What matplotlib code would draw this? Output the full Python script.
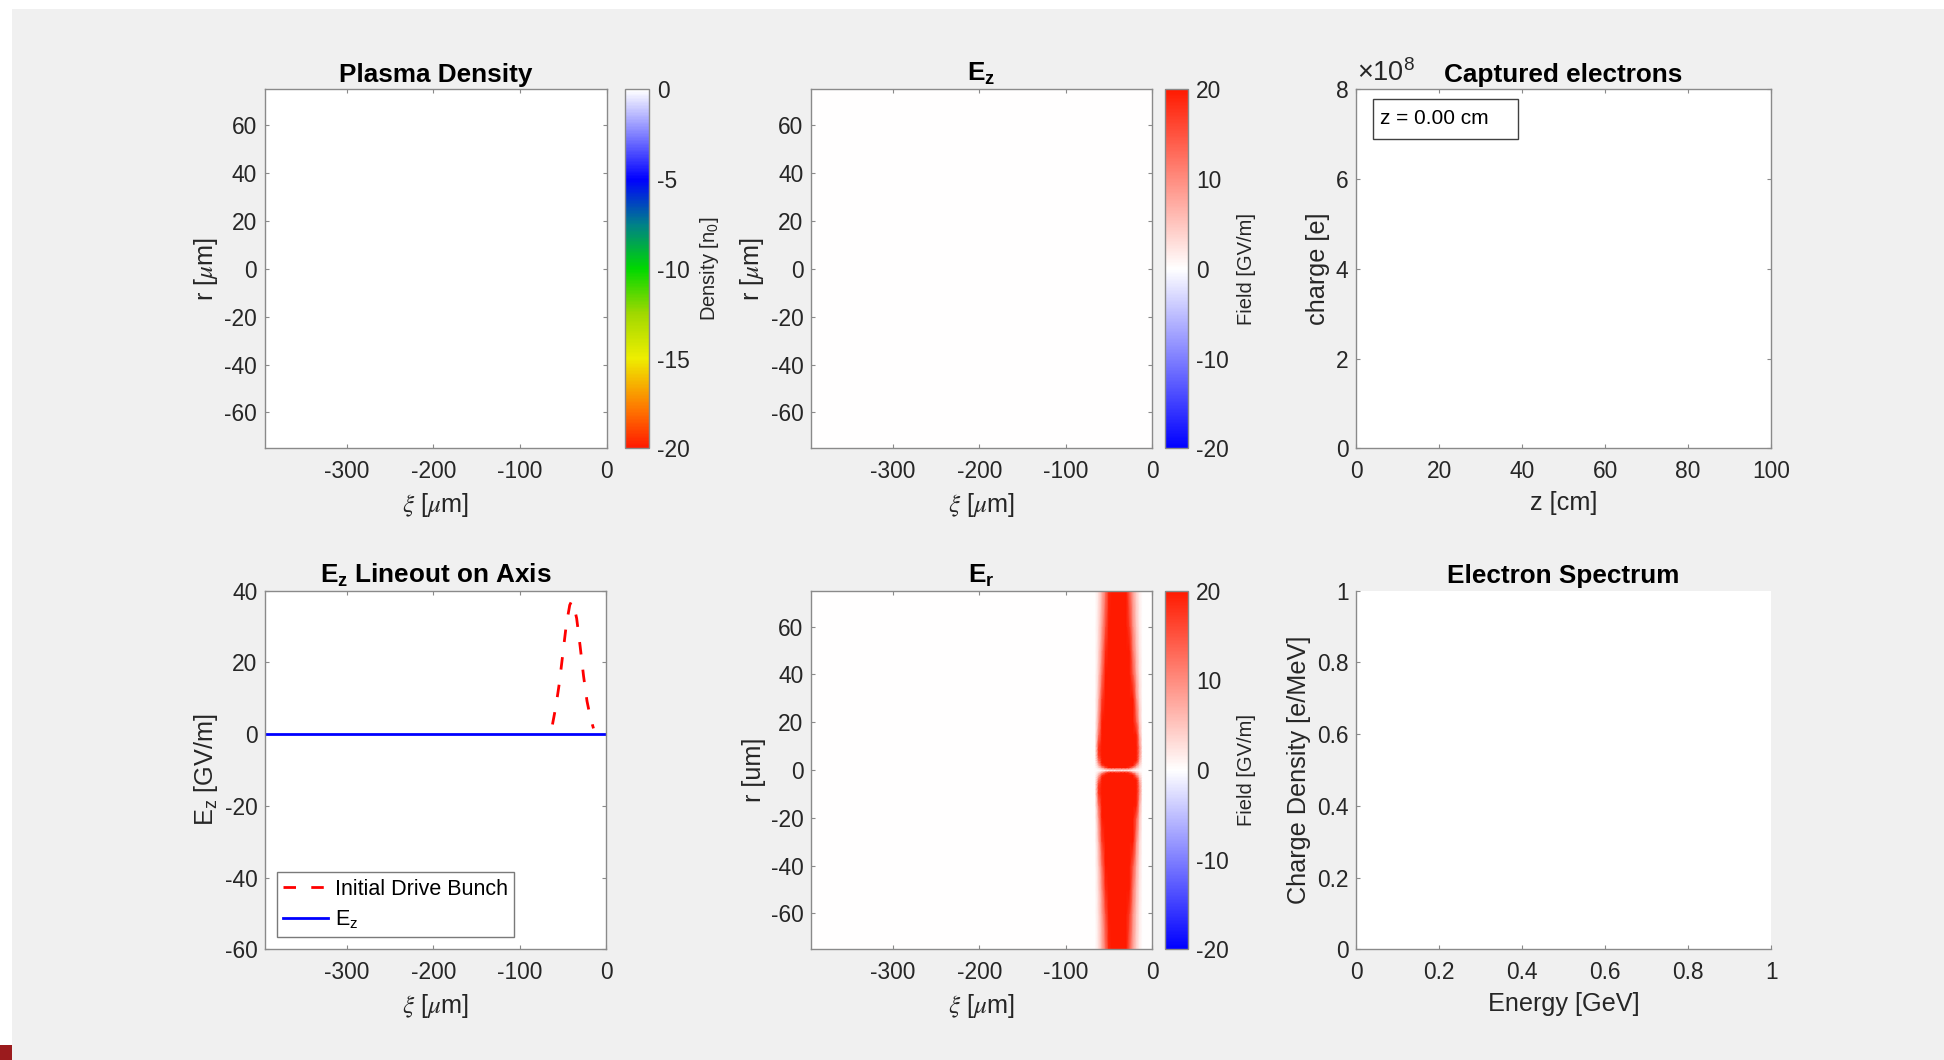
"""Wakefield snapshot at z = 0: six panels (density, Ez, captured charge,
Ez lineout, Er, spectrum), laid out like the MATLAB figure."""

import numpy as np
import matplotlib
matplotlib.use("Agg")
import matplotlib.pyplot as plt
from matplotlib.colors import LinearSegmentedColormap, Normalize
from matplotlib.patches import Rectangle
from matplotlib.ticker import FuncFormatter

TICK_FS = 16.4
LABEL_FS = 18.2
TITLE_FS = 18.8
CB_FS = 14.5

plt.rcParams.update({
    "font.family": ["Liberation Sans", "DejaVu Sans"],
    "mathtext.fontset": "custom",
    "mathtext.rm": "Liberation Sans",
    "mathtext.it": "STIXGeneral:italic",
    "mathtext.bf": "Liberation Sans:bold",
    "axes.unicode_minus": False,
    "xtick.labelsize": TICK_FS,
    "ytick.labelsize": TICK_FS,
})

W, H = 1944, 1060

# ---- data -----------------------------------------------------------------
XI_LIM = (-395, 0)
R_LIM = (-75, 75)
XI_TICKS = [-300, -200, -100, 0]
R_TICKS = [-60, -40, -20, 0, 20, 40, 60]

DENSITY_TICKS = [-20, -15, -10, -5, 0]
FIELD_TICKS = [-20, -10, 0, 10, 20]

# initial drive bunch [GV/m scale]
BUNCH_XI = [-62, -58, -54, -50, -46, -42, -40, -38, -34, -30, -26, -22, -18, -14.5]
BUNCH_EZ = [2.7, 7.8, 14.3, 22.4, 30.5, 36.0, 37.0, 36.6, 32.3, 24.6, 16.2, 9.2, 4.5, 1.6]

# on-axis Ez is flat zero at z = 0
LINEOUT_XI = [-395, 0]
LINEOUT_EZ = [0, 0]

# Er radial amplitude at the bunch centre [GV/m] (mirrored for r < 0)
ER_R = [0, 1, 2, 3, 4, 5, 6, 8, 10, 15, 20, 30, 40, 50, 60, 75]
ER_AMP = [0, 40, 80, 130, 170, 200, 225, 240, 236, 160, 120, 80, 59, 47, 39, 31.5]

CHARGE_XLIM = (0, 100)
CHARGE_SCALE = 1e8
CHARGE_YLIM = (0, 8e8)
CHARGE_YTICKS = [0, 2e8, 4e8, 6e8, 8e8]
CHARGE_XTICKS = [0, 20, 40, 60, 80, 100]
SPEC_TICKS = [0, 0.2, 0.4, 0.6, 0.8, 1]
Z_NOW = 0.00

# ---- colours --------------------------------------------------------------
density_cmap = LinearSegmentedColormap.from_list("density", [
    (0.0, "#ff1a00"), (0.1, "#ff7000"), (0.25, "#eeee00"), (0.375, "#a0d800"),
    (0.5, "#00d800"), (0.625, "#00808a"), (0.75, "#0000ff"), (1.0, "#ffffff")])
field_cmap = LinearSegmentedColormap.from_list("field", ["#0000ff", "#ffffff", "#ff1a00"])

FRAME = "#8a8a8a"
TXT = "#262626"


def px_rect(x0, x1, ytop, ybot):
    return [x0 / W, 1 - ybot / H, (x1 - x0) / W, (ybot - ytop) / H]


def style(ax, box=True):
    for name, sp in ax.spines.items():
        sp.set_color(FRAME)
        sp.set_linewidth(1.0)
        if not box and name in ("top", "right"):
            sp.set_visible(False)
    ax.tick_params(direction="in", length=3, width=0.8, color=FRAME,
                   labelsize=TICK_FS, labelcolor=TXT, top=box, right=box)
    ax.tick_params(axis="x", pad=8.5)
    ax.tick_params(axis="y", pad=5.5)
    ax.set_facecolor("white")


def labels(ax, xlabel, ylabel, ypad=4):
    ax.set_xlabel(xlabel, fontsize=LABEL_FS, color=TXT, labelpad=5.5)
    ax.set_ylabel(ylabel, fontsize=LABEL_FS, color=TXT, labelpad=ypad)


def colorbar(fig, mappable, rect, ticks, label):
    cax = fig.add_axes(rect)
    cb = fig.colorbar(mappable, cax=cax, ticks=ticks)
    cb.outline.set_edgecolor(FRAME)
    cb.outline.set_linewidth(1.0)
    cax.tick_params(length=0, labelsize=TICK_FS, labelcolor=TXT, pad=6)
    cb.set_label(label, fontsize=CB_FS, color=TXT, labelpad=6)
    return cb


def field_axes(ax, ylabel):
    style(ax)
    ax.set_xlim(*XI_LIM)
    ax.set_ylim(*R_LIM)
    ax.set_xticks(XI_TICKS)
    ax.set_yticks(R_TICKS)
    labels(ax, r"$\xi$ [$\mu$m]", ylabel, ypad=3)


def main():
    fig = plt.figure(figsize=(W / 100, H / 100), dpi=100, facecolor="white")
    fig.add_artist(Rectangle((12 / W, 0), 1 - 12 / W, 1 - 9 / H, transform=fig.transFigure,
                             facecolor="#f0f0f0", edgecolor="none", zorder=-10))
    fig.add_artist(Rectangle((0, 0), 12 / W, 15 / H, transform=fig.transFigure,
                             facecolor="#9b1b1d", edgecolor="none", zorder=-9))

    top = (89.3, 448.3)
    bot = (590.7, 949.3)

    # grid for the 2D maps
    r_nodes = np.concatenate([-np.array(ER_R[:0:-1], float), ER_R])
    amp = np.concatenate([ER_AMP[:0:-1], ER_AMP])
    xi_nodes = np.concatenate([[XI_LIM[0], -66], BUNCH_XI, [-11, XI_LIM[1]]])
    prof = np.concatenate([[0, 0], np.array(BUNCH_EZ) / max(BUNCH_EZ), [0, 0]])
    X, Y = np.meshgrid(xi_nodes, r_nodes)
    zero_map = np.zeros_like(X)
    er_map = np.outer(amp, prof)

    # plasma density
    ax1 = fig.add_axes(px_rect(264.8, 606.5, *top))
    m1 = ax1.pcolormesh(X, Y, zero_map, cmap=density_cmap, norm=Normalize(-20, 0),
                        shading="gouraud")
    field_axes(ax1, r"r [$\mu$m]")
    ax1.set_title("Plasma Density", fontsize=TITLE_FS, fontweight="bold", pad=5.5, y=1.0)
    colorbar(fig, m1, px_rect(625.4, 648.9, *top), DENSITY_TICKS, r"Density [$\mathrm{n_0}$]")

    # Ez map
    ax2 = fig.add_axes(px_rect(811, 1152.1, *top))
    m2 = ax2.pcolormesh(X, Y, zero_map, cmap=field_cmap, norm=Normalize(-20, 20),
                        shading="gouraud")
    field_axes(ax2, r"r [$\mu$m]")
    ax2.set_title(r"$\mathbf{E_z}$", fontsize=TITLE_FS, pad=6, y=1.0)
    colorbar(fig, m2, px_rect(1164.6, 1187.9, *top), FIELD_TICKS, "Field [GV/m]")

    # captured electrons (MATLAB-style x10^8 exponent above the y axis)
    ax3 = fig.add_axes(px_rect(1356.1, 1771.1, *top))
    style(ax3)
    ax3.set_xlim(*CHARGE_XLIM)
    ax3.set_ylim(*CHARGE_YLIM)
    ax3.set_xticks(CHARGE_XTICKS)
    ax3.set_yticks(CHARGE_YTICKS)
    ax3.yaxis.set_major_formatter(FuncFormatter(lambda v, p: f"{v / CHARGE_SCALE:g}"))
    ax3.text(0.003, 1.006, r"$\times\mathregular{10^{8}}$", transform=ax3.transAxes,
             fontsize=19.5, color=TXT, ha="left", va="bottom")
    labels(ax3, "z [cm]", "charge [e]")
    ax3.set_title("Captured electrons", fontsize=TITLE_FS, fontweight="bold", pad=5.5, y=1.0)
    ax3.add_patch(Rectangle((0.0398, 0.8607), 0.3504, 0.1131, transform=ax3.transAxes,
                            facecolor="white", edgecolor="#404040", linewidth=1.0, zorder=5))
    ax3.text(0.0573, 0.918, f"z = {Z_NOW:.2f} cm", transform=ax3.transAxes,
             fontsize=15, color="black", va="center", ha="left", zorder=6)

    # Ez lineout
    ax4 = fig.add_axes(px_rect(265, 606, *bot))
    style(ax4)
    ax4.plot(BUNCH_XI, BUNCH_EZ, color="#ff0000", linewidth=2, linestyle="--",
             dashes=(4.5, 5.5), label="Initial Drive Bunch")
    ax4.plot(LINEOUT_XI, LINEOUT_EZ, color="#0000ff", linewidth=2, label=r"$\mathrm{E_z}$")
    ax4.set_xlim(*XI_LIM)
    ax4.set_ylim(-60, 40)
    ax4.set_xticks(XI_TICKS)
    ax4.set_yticks([-60, -40, -20, 0, 20, 40])
    labels(ax4, r"$\xi$ [$\mu$m]", r"$\mathrm{E_z}$ [GV/m]", ypad=3)
    ax4.set_title(r"$\mathbf{E_z}$ Lineout on Axis", fontsize=TITLE_FS, fontweight="bold",
                  pad=6, y=1.0)
    leg = ax4.legend(loc="lower left", bbox_to_anchor=(0.0343, 0.0335), borderaxespad=0,
                     fontsize=15.5, frameon=True, fancybox=False, framealpha=1,
                     edgecolor="#7a7a7a", borderpad=0.3, handlelength=2.1,
                     handletextpad=0.3, labelspacing=0.4)
    leg.get_frame().set_linewidth(1.0)

    # Er map
    ax5 = fig.add_axes(px_rect(811, 1152.1, *bot))
    m5 = ax5.pcolormesh(X, Y, er_map, cmap=field_cmap, norm=Normalize(-20, 20),
                        shading="gouraud")
    field_axes(ax5, "r [um]")
    ax5.set_title(r"$\mathbf{E_r}$", fontsize=TITLE_FS, pad=6, y=1.0)
    colorbar(fig, m5, px_rect(1164.6, 1187.9, *bot), FIELD_TICKS, "Field [GV/m]")

    # electron spectrum (box off)
    ax6 = fig.add_axes(px_rect(1356.1, 1771.1, *bot))
    style(ax6, box=False)
    ax6.set_xlim(0, 1)
    ax6.set_ylim(0, 1)
    ax6.set_xticks(SPEC_TICKS)
    ax6.set_yticks(SPEC_TICKS)
    g = FuncFormatter(lambda v, p: f"{v:g}")
    ax6.xaxis.set_major_formatter(g)
    ax6.yaxis.set_major_formatter(g)
    labels(ax6, "Energy [GeV]", "Charge Density [e/MeV]")
    ax6.set_title("Electron Spectrum", fontsize=TITLE_FS, fontweight="bold", pad=5.5, y=1.0)

    fig.savefig("out.png", dpi=100, facecolor=fig.get_facecolor())


if __name__ == "__main__":
    main()
